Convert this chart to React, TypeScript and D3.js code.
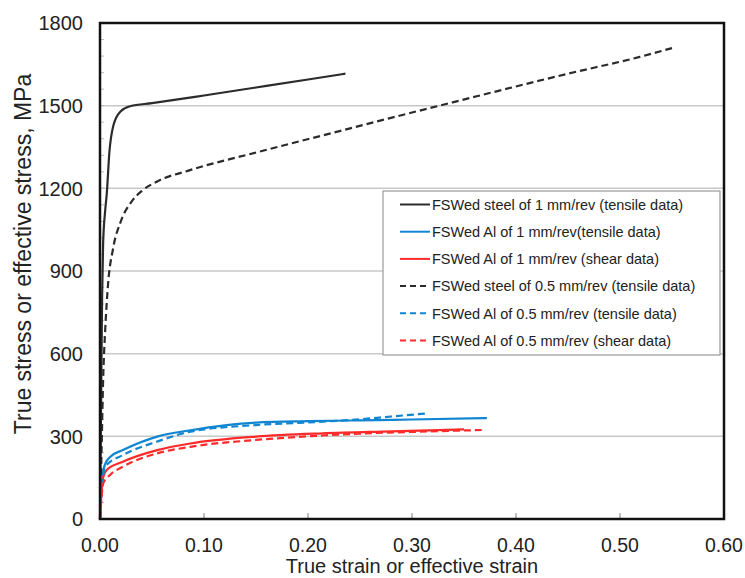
import React from 'react';
import * as d3 from 'd3';

// Stress-strain curves: [true strain, stress MPa]
const steel1: [number, number][] = [
  [0, 0], [0.001, 400], [0.002, 800], [0.003, 1000], [0.005, 1120], [0.0065, 1180],
  [0.009, 1330], [0.013, 1430], [0.02, 1480], [0.029, 1498], [0.05, 1509],
  [0.1, 1537], [0.15, 1566], [0.2, 1595], [0.236, 1616],
];
const alTensile1: [number, number][] = [
  [0, 0], [0.002, 150], [0.005, 200], [0.01, 226], [0.022, 250], [0.055, 299],
  [0.087, 322], [0.12, 340], [0.15, 350], [0.2, 355], [0.25, 358], [0.3, 361], [0.372, 366],
];
const alShear1: [number, number][] = [
  [0, 0], [0.002, 120], [0.0032, 153], [0.0064, 178], [0.022, 208], [0.055, 250],
  [0.087, 274], [0.15, 299], [0.214, 311], [0.28, 318], [0.35, 325],
];
const steel05: [number, number][] = [
  [0, 0], [0.0015, 250], [0.003, 504], [0.005, 686], [0.0077, 850], [0.0125, 980],
  [0.02, 1080], [0.03, 1150], [0.04, 1190], [0.055, 1225], [0.0865, 1266],
  [0.15, 1330], [0.214, 1392], [0.279, 1455], [0.339, 1512], [0.45, 1616], [0.519, 1677], [0.55, 1709],
];
const alTensile05: [number, number][] = [
  [0, 0], [0.002, 120], [0.005, 190], [0.022, 232], [0.055, 281], [0.087, 317],
  [0.15, 341], [0.214, 353], [0.25, 362], [0.28, 372], [0.314, 383],
];
const alShear05: [number, number][] = [
  [0, 0], [0.002, 100], [0.0032, 130], [0.0096, 160], [0.022, 190], [0.055, 238],
  [0.087, 262], [0.15, 287], [0.214, 303], [0.25, 310], [0.3, 316], [0.367, 323],
];

const seriesNames = [
  'FSWed steel of 1 mm/rev (tensile data)',
  'FSWed Al of 1 mm/rev(tensile data)',
  'FSWed Al of 1 mm/rev (shear data)',
  'FSWed steel of 0.5 mm/rev (tensile data)',
  'FSWed Al of 0.5 mm/rev (tensile data)',
  'FSWed Al of 0.5 mm/rev (shear data)',
];
const seriesData = [steel1, alTensile1, alShear1, steel05, alTensile05, alShear05];
const seriesColors = ['#2b2b2b', '#1086d2', '#ff2a2a', '#2b2b2b', '#1086d2', '#ff2a2a'];
const seriesDashed = [false, false, false, true, true, true];

const xTicks = [0, 0.1, 0.2, 0.3, 0.4, 0.5, 0.6];
const yTicks = [0, 300, 600, 900, 1200, 1500, 1800];

const W = 745;
const H = 578;
const margin = { top: 23, right: 21, bottom: 59, left: 100 };

export default function App() {
  const x = d3.scaleLinear().domain([0, 0.6]).range([margin.left, W - margin.right]);
  const y = d3.scaleLinear().domain([0, 1800]).range([H - margin.bottom, margin.top]);
  const line = d3
    .line<[number, number]>()
    .x((d) => x(d[0]))
    .y((d) => y(d[1]))
    .curve(d3.curveMonotoneX);

  const minorY = d3.range(0, 1800, 60);
  const font = 'Liberation Sans, Arial, sans-serif';
  const legX = 383;
  const legY = 191;
  const rowH = 27.2;

  return (
    <svg width={W} height={H} style={{ position: 'absolute', left: 0, top: 0, background: '#fff' }}>
      <rect width={W} height={H} fill="#fff" />
      {/* grid */}
      {yTicks.slice(1, -1).map((t) => (
        <line key={t} x1={x(0)} x2={x(0.6)} y1={y(t)} y2={y(t)} stroke="#c8c8c8" strokeWidth={1.5} />
      ))}
      {/* minor y ticks */}
      {minorY.map((t) => (
        <line key={'m' + t} x1={x(0)} x2={x(0) + 4} y1={y(t)} y2={y(t)} stroke="#bbb" strokeWidth={1} />
      ))}
      {/* x ticks inside */}
      {xTicks.slice(1, -1).map((t) => (
        <line key={'xt' + t} x1={x(t)} x2={x(t)} y1={y(0)} y2={y(0) - 6} stroke="#999" strokeWidth={1.2} />
      ))}
      {/* curves */}
      {seriesData.map((d, i) => (
        <path
          key={i}
          d={line(d) || ''}
          fill="none"
          stroke={seriesColors[i]}
          strokeWidth={2.2}
          strokeDasharray={seriesDashed[i] ? '7,4' : undefined}
        />
      ))}
      {/* frame */}
      <rect
        x={x(0)}
        y={y(1800)}
        width={x(0.6) - x(0)}
        height={y(0) - y(1800)}
        fill="none"
        stroke="#111"
        strokeWidth={2.5}
      />
      {/* tick labels */}
      {yTicks.map((t) => (
        <text key={'yl' + t} x={83} y={y(t)} dy="0.36em" textAnchor="end" fontFamily={font} fontSize={20} fill="#222">
          {t}
        </text>
      ))}
      {xTicks.map((t) => (
        <text key={'xl' + t} x={x(t)} y={552} textAnchor="middle" fontFamily={font} fontSize={19.5} fill="#222">
          {t.toFixed(2)}
        </text>
      ))}
      <text x={(x(0) + x(0.6)) / 2} y={573} textAnchor="middle" fontFamily={font} fontSize={20} fill="#222">
        True strain or effective strain
      </text>
      <text
        transform={`translate(31,254) rotate(-90)`}
        textAnchor="middle"
        fontFamily={font}
        fontSize={23}
        fill="#222"
      >
        True stress or effective stress, MPa
      </text>
      {/* legend */}
      <rect x={legX} y={legY} width={337} height={164} fill="#fff" stroke="#9a9a9a" strokeWidth={1.2} />
      {seriesNames.map((name, i) => {
        const ry = legY + 13.5 + i * rowH;
        return (
          <g key={name}>
            <line
              x1={legX + 17}
              x2={legX + 47}
              y1={ry}
              y2={ry}
              stroke={seriesColors[i]}
              strokeWidth={2}
              strokeDasharray={seriesDashed[i] ? '6,4' : undefined}
            />
            <text x={legX + 49} y={ry} dy="0.36em" fontFamily={font} fontSize={14.5} fill="#222">
              {name}
            </text>
          </g>
        );
      })}
    </svg>
  );
}
